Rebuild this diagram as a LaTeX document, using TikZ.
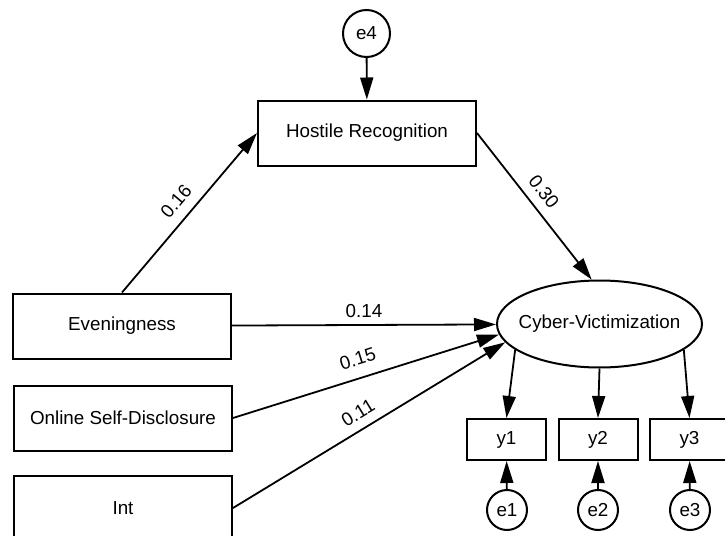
\documentclass[tikz,border=0pt]{standalone}
\usepackage{fontspec}
\setmainfont{Liberation Sans}
\usetikzlibrary{arrows.meta,shapes,calc}
\tikzset{>={Triangle[length=11pt,width=6.5pt]}}
\tikzset{
  var/.style={draw, rectangle, line width=1pt, inner sep=0pt, minimum width=109pt, minimum height=32.5pt},
  ind/.style={draw, rectangle, line width=1pt, inner sep=0pt, minimum width=39.5pt, minimum height=20.5pt},
  err/.style={draw, circle, line width=1pt, inner sep=0pt, minimum size=20pt},
  coef/.style={inner sep=2pt}
}

\begin{document}
\begin{tikzpicture}[x=0.5pt,y=-0.5pt,font=\fontsize{9.4}{11}\selectfont]
\useasboundingbox (0,0) rectangle (725,536);
\node[var] (hr) at (367,133) {Hostile Recognition};
\node[var] (eve) at (122,326) {Eveningness};
\node[var] (osd) at (123,418) {Online Self-Disclosure};
\node[var] (int) at (123,508) {Int};
\node[draw, ellipse, line width=1pt, inner xsep=-4.5pt, inner ysep=0pt, minimum width=102.5pt, minimum height=43.5pt] (cv) at (599.5,324) {Cyber-Victimization};
\node[ind] (y1) at (506.5,439.5) {y1};
\node[ind] (y2) at (598,439.5) {y2};
\node[ind] (y3) at (689.5,439.5) {y3};
\node[err, minimum size=23.5pt] (e4) at (366.5,33.5) {e4};
\node[err] (e1) at (507,510) {e1};
\node[err] (e2) at (598,510) {e2};
\node[err] (e3) at (690,510) {e3};
\begin{scope}[line width=0.9pt]
\draw[->] (e4) to (hr);
\draw[->] (eve.north) to node[coef, above=3pt, sloped] {0.16} (hr.west);
\draw[->] (hr.east) to node[coef, above=2.5pt, sloped, pos=0.47] {0.30} (cv.100);
\draw[->] (eve) to node[coef, above=1pt] {0.14} (cv);
\draw[->] (osd.east) to node[coef, above=3.7pt, sloped, pos=0.49] {0.15} (cv.186);
\draw[->] (int.east) to node[coef, above=2.3pt, sloped, pos=0.49] {0.11} (cv.191);
\draw[->] (cv.197) to (y1.north);
\draw[->] (cv.south) to (y2.north);
\draw[->] (cv.-17) to (y3.north);
\draw[->] (e1) to (y1);
\draw[->] (e2) to (y2);
\draw[->] (e3) to (y3);
\end{scope}
\end{tikzpicture}
\end{document}
